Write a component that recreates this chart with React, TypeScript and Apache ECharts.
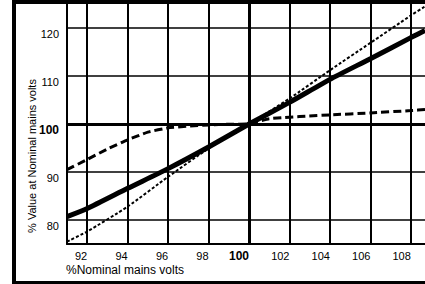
import React, { useEffect, useRef } from "react";
import * as echarts from "echarts";

const xTicks = [92, 94, 96, 98, 100, 102, 104, 106, 108];
const yTicks = [80, 90, 100, 110, 120];

const solidVolts = [91, 92, 94, 96, 98, 100, 102, 104, 106, 108, 108.7];
const solidValues = [80.7, 82.4, 86.6, 90.7, 95.2, 100, 104.5, 109.3, 113.6, 118.0, 119.5];

const dottedVolts = [91, 92, 94, 96, 98, 100, 102, 104, 106, 108, 108.7];
const dottedValues = [75.5, 77.6, 82.8, 89.0, 94.9, 100, 105.3, 111.2, 116.9, 122.6, 124.5];

const dashedVolts = [91, 92, 93, 94, 95, 96, 97, 98, 99, 100, 101, 104, 106, 108, 108.7];
const dashedValues = [90.5, 92.6, 94.8, 96.7, 98.3, 99.2, 99.55, 99.8, 99.95, 100, 101.1, 101.9, 102.3, 102.8, 103.0];

const FONT = "Liberation Sans";

function pairs(xs: number[], ys: number[]) {
  return xs.map((x, i) => [x, ys[i]]);
}

export default function App() {
  const ref = useRef<HTMLDivElement>(null);
  useEffect(() => {
    document.body.style.margin = "0";
    const chart = echarts.init(ref.current!, null, { renderer: "svg" });
    chart.setOption({
      animation: false,
      backgroundColor: "#ffffff",
      textStyle: { color: "#000", fontFamily: FONT },
      grid: { left: 67, top: 4, right: 0, bottom: 40, containLabel: false },
      xAxis: {
        type: "value",
        min: 91,
        max: 108.7,
        interval: 1,
        axisLine: { show: true, lineStyle: { color: "#000", width: 2 } },
        axisTick: { show: false },
        splitLine: { show: false },
        axisLabel: {
          customValues: xTicks,
          align: "right",
          margin: 6,
          color: "#000",
          fontFamily: FONT,
          fontSize: 11,
          formatter: (v: number) =>
            xTicks.includes(v) ? (v === 100 ? "{b|100}" : String(v)) : "",
          rich: { b: { fontWeight: "bold", fontSize: 12, fontFamily: FONT, color: "#000" } },
        },
      },
      yAxis: {
        type: "value",
        min: 75,
        max: 125,
        interval: 5,
        axisLine: { show: true, lineStyle: { color: "#000", width: 2 } },
        axisTick: { show: false },
        splitLine: { show: false },
        axisLabel: {
          customValues: yTicks,
          align: "right",
          verticalAlign: "top",
          margin: 8,
          color: "#000",
          fontFamily: FONT,
          fontSize: 11,
          formatter: (v: number) =>
            yTicks.includes(v) ? (v === 100 ? "{b|100}" : String(v)) : "",
          rich: { b: { fontWeight: "bold", fontSize: 12, fontFamily: FONT, color: "#000" } },
        },
      },
      graphic: [
        { type: "rect", shape: { x: 12, y: 0, width: 4, height: 284 }, style: { fill: "#000" }, z: 100 },
        { type: "rect", shape: { x: 12, y: 0, width: 413, height: 4 }, style: { fill: "#000" }, z: 100 },
        { type: "rect", shape: { x: 12, y: 281, width: 413, height: 3 }, style: { fill: "#000" }, z: 100 },
        {
          type: "text",
          x: 66,
          y: 270,
          style: {
            text: "%Nominal mains volts",
            fontFamily: FONT,
            fontSize: 12,
            fill: "#000",
            align: "left",
            verticalAlign: "middle",
          },
        },
        {
          type: "text",
          x: 32,
          y: 156,
          rotation: Math.PI / 2,
          style: {
            text: "% Value at Nominal mains volts",
            fontFamily: FONT,
            fontSize: 11,
            fill: "#000",
            align: "center",
            verticalAlign: "middle",
          },
        },
      ],
      series: [
        {
          type: "line",
          data: [],
          z: 1,
          silent: true,
          markLine: {
            silent: true,
            symbol: ["none", "none"],
            label: { show: false },
            animation: false,
            data: [
              ...xTicks.map((v) => ({
                xAxis: v,
                lineStyle: { color: "#000", type: "solid", width: v === 100 ? 3 : 2 },
              })),
              ...yTicks.map((v) => ({
                yAxis: v,
                lineStyle: { color: "#000", type: "solid", width: v === 100 ? 3 : 1.6 },
              })),
            ],
          },
        },
        {
          type: "line",
          data: pairs(dashedVolts, dashedValues),
          showSymbol: false,
          smooth: 0.15,
          z: 3,
          lineStyle: { color: "#000", width: 3, type: [8, 4] },
        },
        {
          type: "line",
          data: pairs(dottedVolts, dottedValues),
          showSymbol: false,
          smooth: 0.2,
          z: 3,
          lineStyle: { color: "#000", width: 2, type: [3, 2] },
        },
        {
          type: "line",
          data: pairs(solidVolts, solidValues),
          showSymbol: false,
          smooth: 0.2,
          z: 4,
          lineStyle: { color: "#000", width: 5 },
        },
      ],
    });
    return () => chart.dispose();
  }, []);
  return (
    <div
      ref={ref}
      style={{ position: "fixed", left: 0, top: 0, width: 425, height: 284, background: "#fff" }}
    />
  );
}
